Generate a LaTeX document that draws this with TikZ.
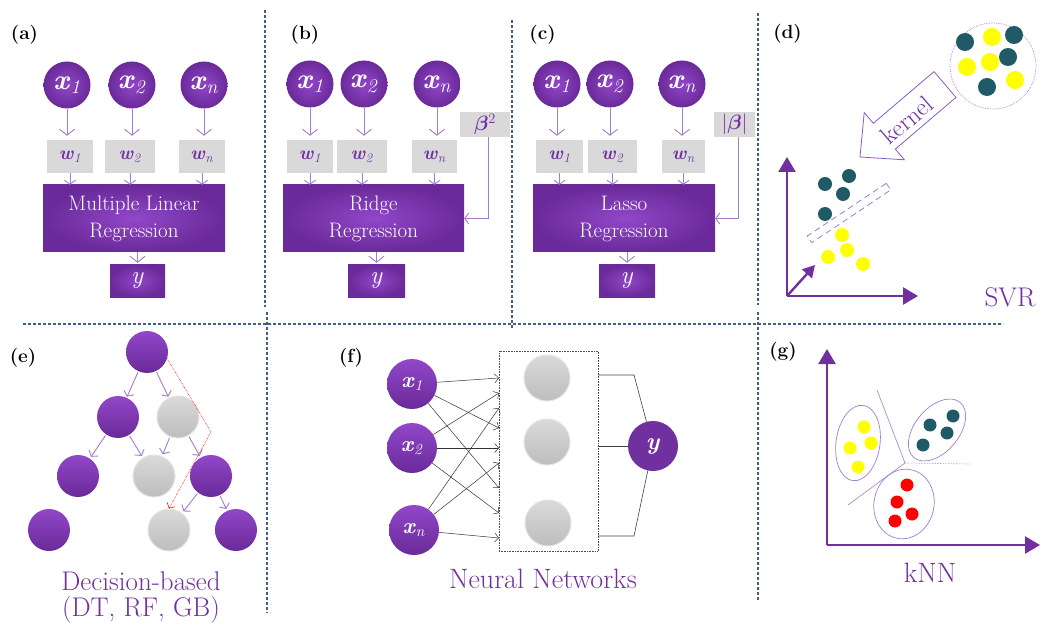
\documentclass[tikz,border=0pt]{standalone}
\usepackage{fontspec}
\usepackage{bm}
\usetikzlibrary{arrows.meta,shapes.geometric,shadings}
\definecolor{pur}{HTML}{7030A0}
\definecolor{purl}{HTML}{9147C9}
\definecolor{purd}{HTML}{6A2A99}
\definecolor{lpur}{HTML}{A27ECD}
\definecolor{mpur}{HTML}{8A5CC0}
\definecolor{gbox}{HTML}{D9D9D9}
\definecolor{gtop}{HTML}{DADADA}
\definecolor{gbot}{HTML}{BDBDBD}
\definecolor{gbrd}{HTML}{E4E4E4}
\definecolor{divc}{HTML}{3F5F85}
\definecolor{dteal}{HTML}{1F5A66}
\definecolor{dyel}{HTML}{FFFF00}
\definecolor{dred}{HTML}{FF0000}
\newcommand{\xs}[1]{\textbf{\textit{x}}\textsubscript{\textit{#1}}}
\newcommand{\ws}[1]{\textbf{\textit{w}}\textsubscript{\textit{#1}}}
\newcommand{\fsz}[1]{\fontsize{#1}{#1}\selectfont}
\begin{document}
\begin{tikzpicture}[x=1pt,y=-1pt,
  divider/.style={draw=divc, line width=1.3pt, dash pattern=on 3pt off 2pt},
  panlab/.style={font=\fontsize{19}{19}\selectfont\bfseries, text=black},
  pc/.style={circle, inner sep=0pt, minimum size=#1, inner color=purl, outer color=purd, text=white, font=\fsz{28}},
  pc/.default=47pt,
  wbox/.style={rectangle, fill=gbox, inner sep=0pt, minimum height=33pt, text=pur, font=\fsz{19}},
  mbox/.style={rectangle, inner sep=0pt, minimum height=67pt, inner color=purl, outer color=purd, text=white, align=center, font=\fontsize{21}{27}\selectfont},
  ybox/.style={rectangle, inner sep=0pt, minimum height=32pt, inner color=purl, outer color=purd, text=white, font=\fsz{25}},
  bbox/.style={rectangle, fill=gbox, inner sep=0pt, minimum height=25pt, text=pur, font=\fsz{20}},
  parrow/.style={draw=lpur, line width=0.9pt, -{Straight Barb[length=6pt,width=15pt]}},
  sarrow/.style={draw=lpur, line width=0.9pt, -{Straight Barb[length=4pt,width=11pt]}},
  tp/.style={circle, inner sep=0pt, minimum size=42pt, top color=purl, bottom color=purd},
  tg/.style={circle, inner sep=0pt, minimum size=42pt, top color=gtop, bottom color=gbot, draw=gbrd, line width=1pt},
  narrow/.style={draw=black!80, line width=0.5pt, -{Straight Barb[length=4pt,width=9pt]}},
  axis/.style={draw=pur, line width=2.4pt, -{Triangle[length=15pt,width=17pt]}},
  biglab/.style={text=pur, font=\fsz{27}}
]
\useasboundingbox (0,0) rectangle (1041,628);
\fill[white] (0,0) rectangle (1041,628);

% ---------- dividers
\draw[divider] (265,10) -- (265,307);
\draw[divider] (512,20) -- (512,328);
\draw[divider] (758,13) -- (758,305);
\draw[divider] (23,324) -- (1003,324);
\draw[divider] (267,312) -- (267,613);
\draw[divider] (758,312) -- (758,600);

% ---------- (a)
\node[panlab] (la) at (24.5,35) {(a)};
\node[pc] (xa1) at (67,85) {\xs{1}};
\node[pc] (xa2) at (132,85) {\xs{2}};
\node[pc] (xan) at (204,85) {\xs{n}};
\node[wbox, minimum width=46pt] (wa1) at (70,156.5) {\ws{1}};
\node[wbox, minimum width=50pt] (wa2) at (130,156.5) {\ws{2}};
\node[wbox, minimum width=46pt] (wan) at (202,156.5) {\ws{n}};
\node[mbox, minimum width=182pt] (ma) at (134,218.5) {Multiple Linear\\Regression};
\node[ybox, minimum width=55pt] (ya) at (137.5,281) {\textit{y}};
\foreach \s in {1,2,n}{
  \draw[parrow] (xa\s.south) -- ([yshift=4pt]wa\s.north -| xa\s.south);
  \draw[sarrow] (wa\s.south) -- (wa\s.south |- ma.north);
}
\draw[parrow] (ma.south -| ya.north) -- ([yshift=2pt]ya.north);

% ---------- (b)
\node[panlab] (lb) at (305,35) {(b)};
\node[pc] (xb1) at (310,84) {\xs{1}};
\node[pc] (xb2) at (364,84) {\xs{2}};
\node[pc] (xbn) at (437,84) {\xs{n}};
\node[wbox, minimum width=46pt] (wb1) at (310,156.5) {\ws{1}};
\node[wbox, minimum width=50pt] (wb2) at (362,156.5) {\ws{2}};
\node[wbox, minimum width=45pt] (wbn) at (434.5,156.5) {\ws{n}};
\node[bbox, minimum width=50pt] (bb) at (485,124.5) {$\bm{\beta}^{2}$};
\node[mbox, minimum width=181pt] (mb) at (373.5,218.5) {Ridge\\Regression};
\node[ybox, minimum width=57pt] (yb) at (376.5,281) {\textit{y}};
\foreach \s in {1,2,n}{
  \draw[parrow] (xb\s.south) -- ([yshift=4pt]wb\s.north -| xb\s.south);
  \draw[sarrow] (wb\s.south) -- (wb\s.south |- mb.north);
}
\draw[parrow] (mb.south -| yb.north) -- ([yshift=2pt]yb.north);
\draw[sarrow] ([xshift=3pt]bb.south) |- (mb.east);

% ---------- (c)
\node[panlab] (lc) at (542.5,35) {(c)};
\node[pc] (xc1) at (557,84) {\xs{1}};
\node[pc] (xc2) at (610,84) {\xs{2}};
\node[pc] (xcn) at (682,84) {\xs{n}};
\node[wbox, minimum width=47pt] (wc1) at (559.5,156.5) {\ws{1}};
\node[wbox, minimum width=49pt] (wc2) at (612.5,156.5) {\ws{2}};
\node[wbox, minimum width=43pt] (wcn) at (683.5,156.5) {\ws{n}};
\node[bbox, minimum width=41pt] (bc) at (734.5,124.5) {$|\bm{\beta}|$};
\node[mbox, minimum width=182pt] (mc) at (624,218.5) {Lasso\\Regression};
\node[ybox, minimum width=56pt] (yc) at (627,281) {\textit{y}};
\foreach \s in {1,2,n}{
  \draw[parrow] (xc\s.south) -- ([yshift=4pt]wc\s.north -| xc\s.south);
  \draw[sarrow] (wc\s.south) -- (wc\s.south |- mc.north);
}
\draw[parrow] (mc.south -| yc.north) -- ([yshift=2pt]yc.north);
\draw[sarrow] ([xshift=4pt]bc.south) |- (mc.east);

% ---------- (d)
\node[panlab] (ld) at (787.5,34) {(d)};
\draw[lpur, line width=0.7pt, densely dotted] (993,66) circle [radius=43];
\fill[dteal] (965,42) circle [radius=9];
\fill[dyel] (992,37) circle [radius=9];
\fill[dteal] (1014,35) circle [radius=9];
\fill[dyel] (967,67) circle [radius=9];
\fill[dyel] (990,62) circle [radius=9];
\fill[dteal] (1008,57) circle [radius=9];
\fill[dteal] (987,87) circle [radius=9];
\fill[dyel] (1015,80) circle [radius=9];
\draw[mpur, line width=0.8pt, fill=white] (934,71.6) -- (873.3,123.3) -- (864.2,112.6) -- (860,157) -- (904.4,159.8) -- (895.3,149.1) -- (956,97.4) -- cycle;
\node[rotate=40.5, text=pur, font=\fsz{25}, inner sep=0pt] (kt) at (907,120) {kernel};
\coordinate (dO) at (787,296);
\coordinate (dY) at (787,157);
\coordinate (dX) at (918,296);
\coordinate (dD) at (815,265);
\draw[axis] (dO) -- (dY);
\draw[axis] (dO) -- (dX);
\draw[axis, -{Triangle[length=12pt,width=13pt]}] (dO) -- (dD);
\node[draw=lpur, line width=0.8pt, dash pattern=on 6pt off 4pt, rotate=33.7, minimum width=95pt, minimum height=8pt, inner sep=0pt] (sv) at (849,213) {};
\fill[dteal] (825,184) circle [radius=7];
\fill[dteal] (849,176) circle [radius=7];
\fill[dteal] (843,194) circle [radius=7];
\fill[dteal] (825,214) circle [radius=7];
\fill[dyel] (842,235) circle [radius=7];
\fill[dyel] (828,257) circle [radius=7];
\fill[dyel] (847,250) circle [radius=7];
\fill[dyel] (863,264) circle [radius=7];
\node[biglab] (svr) at (1010,297) {SVR};

% ---------- (e)
\node[panlab] (le) at (23,358) {(e)};
\node[tp] (t1) at (147,352) {};
\node[tp] (t2a) at (118,417) {};
\node[tg] (t2b) at (178,417) {};
\node[tp] (t3a) at (78,476) {};
\node[tg] (t3b) at (154,476) {};
\node[tp] (t3c) at (211,476) {};
\node[tp] (t4a) at (49,530) {};
\node[tg] (t4b) at (169,530) {};
\node[tp] (t4c) at (236,530) {};
\draw[sarrow, shorten <=1pt, shorten >=1pt] (t1) -- (t2a);
\draw[sarrow, shorten <=1pt, shorten >=1pt] (t1) -- (t2b);
\draw[sarrow, shorten <=1pt, shorten >=2pt] (t2a) -- (t3a);
\draw[sarrow, shorten <=1pt, shorten >=2pt] (t2a) -- (t3b);
\draw[sarrow, shorten <=1pt, shorten >=2pt] (t2b) -- (t3b);
\draw[sarrow, shorten <=1pt, shorten >=2pt] (t2b) -- (t3c);
\draw[sarrow, shorten <=1pt, shorten >=2pt] (t3c) -- (t4b);
\draw[sarrow, shorten <=1pt, shorten >=2pt] (t3c) -- (t4c);
\coordinate (rb) at (211,432);
\draw[dred, line width=0.6pt, densely dotted, -{Straight Barb[length=4pt,width=9pt]}] (t1.-18) -- (rb) -- (t4b.north);
\node[biglab, align=center, font=\fontsize{27}{26}\selectfont] (dl) at (141,598) {Decision-based\\(DT, RF, GB)};

% ---------- (f)
\node[panlab] (lf) at (351,358) {(f)};
\node[rectangle, draw=black!70, densely dotted, line width=0.6pt, minimum width=99pt, minimum height=200pt, inner sep=0pt] (hb) at (548.5,451) {};
\node[tg, minimum size=46pt] (h1) at (547,378) {};
\node[tg, minimum size=46pt] (h2) at (547,442) {};
\node[tg, minimum size=46pt] (h3) at (548,523) {};
\node[pc=50pt, top color=purl, bottom color=purd, font=\fsz{22}] (fx1) at (412,384) {\xs{1}};
\node[pc=50pt, top color=purl, bottom color=purd, font=\fsz{22}] (fx2) at (412,448) {\xs{2}};
\node[pc=50pt, top color=purl, bottom color=purd, font=\fsz{22}] (fxn) at (414,530) {\xs{n}};
\node[circle, inner sep=0pt, minimum size=50pt, fill=pur, text=white, font=\fsz{24}] (fy) at (653,446) {\textbf{\textit{y}}};
\coordinate (a1) at (499,378);
\coordinate (a2) at (499,393);
\coordinate (a3) at (499,408);
\coordinate (a4) at (499,428);
\coordinate (a5) at (499,448);
\coordinate (a6) at (499,463);
\coordinate (a7) at (499,488);
\coordinate (a8) at (499,513);
\coordinate (a9) at (499,538);
\draw[narrow] (fx1) -- (a1);
\draw[narrow] (fx1) -- (a4);
\draw[narrow] (fx1) -- (a7);
\draw[narrow] (fx2) -- (a2);
\draw[narrow] (fx2) -- (a5);
\draw[narrow] (fx2) -- (a8);
\draw[narrow] (fxn) -- (a3);
\draw[narrow] (fxn) -- (a6);
\draw[narrow] (fxn) -- (a9);
\coordinate (o1) at (598,375);
\coordinate (o3) at (598,536);
\draw[black!75, line width=0.6pt] (o1) -- ++(36,0) -- (fy);
\draw[black!75, line width=0.6pt] (hb.east |- fy) -- (fy);
\draw[black!75, line width=0.6pt] (o3) -- ++(36,0) -- (fy);
\node[biglab, font=\fsz{28}] (nn) at (543,579) {Neural Networks};

% ---------- (g)
\node[panlab] (lg) at (783,352) {(g)};
\coordinate (gO) at (827,545);
\coordinate (gY) at (827,349);
\coordinate (gX) at (1040,545);
\draw[axis] (gO) -- (gY);
\draw[axis] (gO) -- (gX);
\coordinate (gj) at (905,463);
\coordinate (gl1) at (877,390);
\coordinate (gl2) at (970,464);
\coordinate (gl3) at (848,505);
\draw[lpur, line width=0.6pt] (gl1) -- (gj) -- (gl3);
\draw[lpur, line width=0.6pt, densely dotted] (gj) -- (gl2);
\draw[lpur, line width=0.7pt] (858,443) ellipse [x radius=22, y radius=38, rotate=-8];
\draw[lpur, line width=0.7pt] (937,430) ellipse [x radius=36, y radius=22, rotate=50];
\draw[lpur, line width=0.7pt] (904,504) ellipse [x radius=30, y radius=35, rotate=-12];
\fill[dyel] (864,427) circle [radius=6.5];
\fill[dyel] (871,443) circle [radius=6.5];
\fill[dyel] (850,448) circle [radius=6.5];
\fill[dyel] (858,467) circle [radius=6.5];
\fill[dteal] (930,425) circle [radius=6.5];
\fill[dteal] (953,416) circle [radius=6.5];
\fill[dteal] (947,433) circle [radius=6.5];
\fill[dteal] (923,445) circle [radius=6.5];
\fill[dred] (907,485) circle [radius=6.5];
\fill[dred] (897,502) circle [radius=6.5];
\fill[dred] (912,514) circle [radius=6.5];
\fill[dred] (895,521) circle [radius=6.5];
\node[biglab, font=\fsz{28}] (knn) at (930,573) {kNN};
\end{tikzpicture}
\end{document}
